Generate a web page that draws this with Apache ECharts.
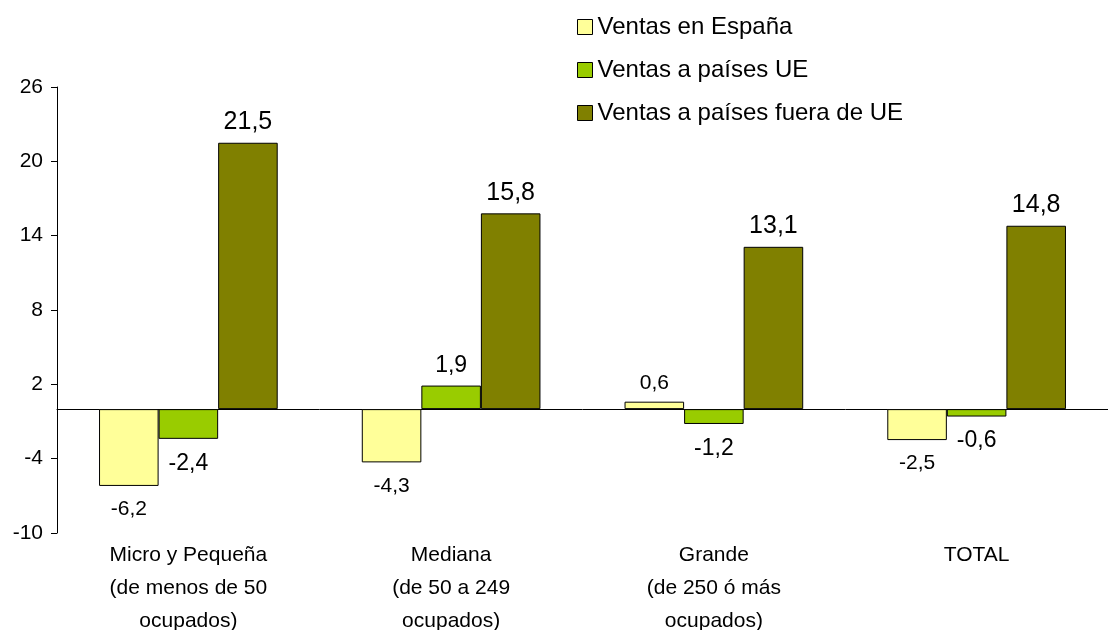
<!DOCTYPE html>
<html>
<head>
<meta charset="utf-8">
<script src="https://cdn.jsdelivr.net/npm/echarts@6/dist/echarts.min.js"></script>
<style>
html,body{margin:0;padding:0;background:#fff;}
#box{width:1108px;height:630px;}
</style>
</head>
<body>
<div id="box"></div>
<script>
var categories = ['Micro y Pequeña\n(de menos de 50\nocupados)', 'Mediana\n(de 50 a 249\nocupados)', 'Grande\n(de 250 ó más\nocupados)', 'TOTAL'];
var seriesNames = ['Ventas en España', 'Ventas a países UE', 'Ventas a países fuera de UE'];
var ventasEspana = [-6.2, -4.3, 0.6, -2.5];
var ventasUE = [-2.4, 1.9, -1.2, -0.6];
var ventasFueraUE = [21.5, 15.8, 13.1, 14.8];
var colors = ['#FFFF99', '#99CC00', '#808000'];
var labelSizes = [21, 23, 25];

var values = [ventasEspana, ventasUE, ventasFueraUE];
var series = [];
for (var i = 0; i < values.length; i++) {
	series.push({
		name: seriesNames[i],
		type: 'bar',
		xAxisIndex: 0,
		barGap: '0%',
		barCategoryGap: '32%',
		itemStyle: {
			color: colors[i],
			borderColor: '#000',
			borderWidth: 1
		},
		label: {
			show: true,
			position: 'top',
			distance: 8,
			color: '#000',
			fontSize: labelSizes[i],
			fontFamily: 'Liberation Sans',
			formatter: function (p) {
				return String(p.value).replace('.', ',');
			}
		},
		data: values[i].map(function (v) {
			// negativos: etiqueta debajo de la barra
			return {
				value: v,
				label: v < 0 ? { position: 'bottom', distance: 13 } : { position: 'top' }
			};
		})
	});
}

var mychart = echarts.init(document.getElementById('box'));
var option = {
	animation: false,
	textStyle: { fontFamily: 'Liberation Sans' },
	legend: {
		orient: 'vertical',
		left: 572,
		top: 10,
		itemWidth: 15,
		itemHeight: 15,
		itemGap: 19,
		icon: 'rect',
		itemStyle: { borderColor: '#000', borderWidth: 1 },
		textStyle: { fontSize: 24, color: '#000', lineHeight: 24 },
		data: seriesNames
	},
	grid: { left: 57, right: 0, top: 87, bottom: 97, outerBoundsMode: 'none', containLabel: false },
	xAxis: [{
		type: 'category',
		data: categories,
		axisLine: { onZero: true, lineStyle: { color: '#000', width: 1 } },
		axisTick: { show: false },
		axisLabel: { show: false }
	}, {
		type: 'category',
		data: categories,
		position: 'bottom',
		axisLine: { show: false, onZero: false },
		axisTick: { show: false },
		axisLabel: { color: '#000', fontSize: 21, lineHeight: 33, margin: 6, interval: 0 }
	}],
	yAxis: [{
		type: 'value',
		min: -10,
		max: 26,
		interval: 6,
		axisLine: { show: true, lineStyle: { color: '#000' } },
		axisTick: { show: true, length: 6, lineStyle: { color: '#000' } },
		axisLabel: { color: '#000', fontSize: 21, margin: 14 },
		splitLine: { show: false }
	}],
	series: series
};
mychart.setOption(option);
</script>
</body>
</html>
